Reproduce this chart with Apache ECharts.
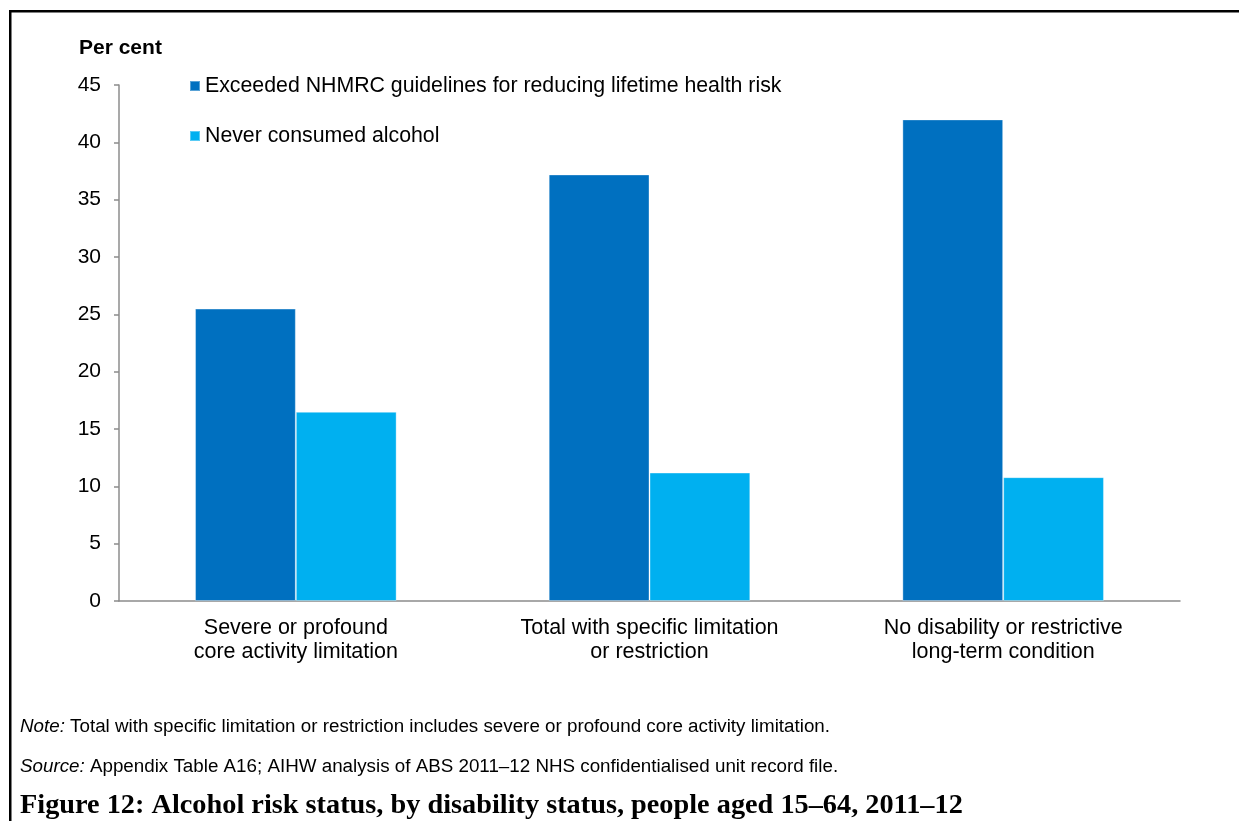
<!DOCTYPE html>
<html>
<head>
<meta charset="utf-8">
<script src="https://cdn.jsdelivr.net/npm/echarts@6/dist/echarts.min.js"></script>
<style>
html,body{margin:0;padding:0;background:#fff;}
#chart{width:1239px;height:821px;}
</style>
</head>
<body>
<div id="chart"></div>
<script>
const categories = [
  'Severe or profound\ncore activity limitation',
  'Total with specific limitation\nor restriction',
  'No disability or restrictive\nlong-term condition'
];
const seriesNames = [
  'Exceeded NHMRC guidelines for reducing lifetime health risk',
  'Never consumed alcohol'
];
const exceededValues = [25.5, 37.2, 42.0];
const neverValues = [16.5, 11.2, 10.8];
const yTicks = [0, 5, 10, 15, 20, 25, 30, 35, 40, 45];

const FONT = '"Liberation Sans", Arial, sans-serif';
const chart = echarts.init(document.getElementById('chart'), null, {renderer: 'canvas'});

chart.setOption({
  animation: false,
  backgroundColor: '#ffffff',
  textStyle: {fontFamily: FONT, color: '#000'},
  grid: {left: 119, right: 59, top: 85, bottom: 220, containLabel: false},
  legend: {
    orient: 'vertical',
    left: 184, top: 70,
    itemWidth: 10, itemHeight: 10, itemGap: 28,
    icon: 'rect',
    textStyle: {fontFamily: FONT, fontSize: 21.3, color: '#000', lineHeight: 22, padding: [0, 0, 0, 0]},
    data: seriesNames
  },
  xAxis: {
    type: 'category',
    data: categories,
    axisLine: {show: true, lineStyle: {color: '#8c8c8c', width: 1.5}},
    axisTick: {show: false},
    axisLabel: {fontFamily: FONT, fontSize: 21.5, color: '#000', lineHeight: 24, margin: 15, interval: 0}
  },
  yAxis: {
    type: 'value',
    min: yTicks[0], max: yTicks[yTicks.length - 1], interval: 5,
    name: 'Per cent',
    nameLocation: 'end',
    nameGap: 26,
    nameTextStyle: {fontFamily: FONT, fontSize: 21, fontWeight: 'bold', color: '#000', align: 'left', padding: [0, 0, 0, -40]},
    axisLine: {show: true, lineStyle: {color: '#8c8c8c', width: 1.5}},
    axisTick: {show: true, inside: false, length: 5, lineStyle: {color: '#8c8c8c', width: 1.5}},
    splitLine: {show: false},
    axisLabel: {fontFamily: FONT, fontSize: 21, color: '#000', margin: 18}
  },
  series: [
    {
      name: seriesNames[0], type: 'bar', data: exceededValues,
      barGap: '0%', barCategoryGap: '43%',
      itemStyle: {color: '#0070C0', borderColor: 'rgba(255,255,255,0.35)', borderWidth: 1}
    },
    {
      name: seriesNames[1], type: 'bar', data: neverValues,
      barGap: '0%', barCategoryGap: '43%',
      itemStyle: {color: '#00B0F0', borderColor: 'rgba(255,255,255,0.35)', borderWidth: 1}
    }
  ],
  graphic: [
    {type: 'rect', shape: {x: 9, y: 10, width: 1230, height: 2.5}, style: {fill: '#000'}, silent: true},
    {type: 'rect', shape: {x: 9, y: 10, width: 2.5, height: 811}, style: {fill: '#000'}, silent: true},
    {
      type: 'text', left: 20, top: 717,
      style: {
        text: '{i|Note:} Total with specific limitation or restriction includes severe or profound core activity limitation.',
        rich: {i: {fontStyle: 'italic', fontFamily: FONT, fontSize: 18.8, fill: '#000'}},
        fontFamily: FONT, fontSize: 18.8, fill: '#000'
      }
    },
    {
      type: 'text', left: 20, top: 757,
      style: {
        text: '{i|Source:} Appendix Table A16; AIHW analysis of ABS 2011\u201312 NHS confidentialised unit record file.',
        rich: {i: {fontStyle: 'italic', fontFamily: FONT, fontSize: 18.8, fill: '#000'}},
        fontFamily: FONT, fontSize: 18.8, fill: '#000'
      }
    },
    {
      type: 'text', left: 20, top: 792,
      style: {
        text: 'Figure 12: Alcohol risk status, by disability status, people aged 15\u201364, 2011\u201312',
        fontFamily: '"Liberation Serif", "DejaVu Serif", serif', fontWeight: 'bold', fontSize: 28.3, fill: '#000'
      }
    }
  ]
});
</script>
</body>
</html>
